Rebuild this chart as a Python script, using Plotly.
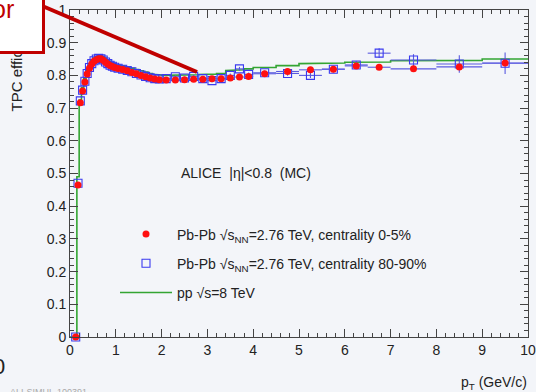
import plotly.graph_objects as go

# ---------------- data ----------------
pt = [0.125, 0.175, 0.225, 0.275, 0.325, 0.375, 0.425, 0.475, 0.525, 0.575,
      0.625, 0.675, 0.725, 0.775, 0.825, 0.875, 0.925, 0.975,
      1.05, 1.15, 1.25, 1.35, 1.45, 1.55, 1.65, 1.75, 1.85, 1.95,
      2.1, 2.3, 2.5, 2.7, 2.9, 3.1, 3.3, 3.5, 3.7, 3.9,
      4.25, 4.75, 5.25, 5.75, 6.25, 6.75, 7.5, 8.5, 9.5]
pt_halfwidth = [0.025] * 18 + [0.05] * 10 + [0.1] * 10 + [0.25] * 6 + [0.5] * 3

eff_central = [0.0, 0.465, 0.716, 0.752, 0.780, 0.804, 0.822, 0.835, 0.843, 0.848,
               0.851, 0.851, 0.846, 0.840, 0.835, 0.830, 0.827, 0.824,
               0.821, 0.818, 0.814, 0.809, 0.805, 0.800, 0.796, 0.792, 0.789, 0.787,
               0.786, 0.786, 0.787, 0.788, 0.788, 0.790, 0.790, 0.792, 0.795, 0.797,
               0.805, 0.812, 0.817, 0.819, 0.829, 0.825, 0.820, 0.826, 0.838]
err_central = [0.001] * 28 + [0.002] * 10 + [0.003, 0.003, 0.004, 0.004, 0.005, 0.005, 0.005, 0.006, 0.008]

eff_periph = [0.0, 0.470, 0.722, 0.755, 0.782, 0.806, 0.824, 0.836, 0.845, 0.850,
              0.852, 0.851, 0.847, 0.841, 0.836, 0.831, 0.828, 0.825,
              0.822, 0.819, 0.815, 0.811, 0.806, 0.801, 0.797, 0.793, 0.790, 0.789,
              0.790, 0.796, 0.792, 0.797, 0.790, 0.784, 0.790, 0.800, 0.820, 0.803,
              0.808, 0.806, 0.800, 0.819, 0.832, 0.868, 0.847, 0.835, 0.837]
err_periph = [0.002] * 28 + [0.004, 0.004, 0.004, 0.005, 0.005, 0.005, 0.005, 0.006, 0.006, 0.006,
                             0.006, 0.007, 0.008, 0.010, 0.012, 0.015, 0.018, 0.027, 0.033]

pp_edges = [0.0, 0.15, 0.2, 0.25, 0.3, 0.35, 0.4, 0.45, 0.5, 0.55, 0.6, 0.65, 0.7, 0.75,
            0.8, 0.85, 0.9, 0.95, 1.0, 1.1, 1.2, 1.3, 1.4, 1.5, 1.6, 1.7, 1.8, 1.9, 2.0,
            2.2, 2.4, 2.6, 2.8, 3.0, 3.2, 3.4, 3.6, 3.8, 4.0,
            4.5, 5.0, 5.5, 6.0, 6.5, 7.0, 8.0, 9.0, 10.0]
eff_pp = [0.0, 0.490, 0.725, 0.762, 0.790, 0.815, 0.832, 0.845, 0.853, 0.858,
          0.861, 0.861, 0.858, 0.853, 0.848, 0.843, 0.839, 0.836,
          0.832, 0.829, 0.825, 0.822, 0.818, 0.814, 0.810, 0.806, 0.803, 0.801,
          0.800, 0.800, 0.801, 0.802, 0.803, 0.804, 0.806, 0.815, 0.817, 0.820,
          0.824, 0.830, 0.836, 0.838, 0.840, 0.841, 0.845, 0.846, 0.850]

x_ticks = [0, 1, 2, 3, 4, 5, 6, 7, 8, 9, 10]
y_ticks = [0, 0.1, 0.2, 0.3, 0.4, 0.5, 0.6, 0.7, 0.8, 0.9, 1.0]
y_tick_labels = ["0", "0.1", "0.2", "0.3", "0.4", "0.5", "0.6", "0.7", "0.8", "0.9", "1"]

# ---------------- style ----------------
W, H = 536, 392
ML, MR, MT, MB = 70, 8, 10, 55
PW, PH = W - ML - MR, H - MT - MB
BG = "#f3f5f9"
FONT = "Liberation Sans, Arial, sans-serif"
TXT = "#222222"
RED = "#ff1010"
BLUE = "#3a3af0"
ERRC = "#5a5ae0"
GREEN = "#33a533"
DARKRED = "#c00000"


def px(xp):
    return (xp - ML) / PW


def py(yp):
    return (H - MB - yp) / PH


# step line for pp histogram
step_x, step_y = [], []
for i, v in enumerate(eff_pp):
    step_x += [pp_edges[i], pp_edges[i + 1]]
    step_y += [v, v]

fig = go.Figure()

fig.add_trace(go.Scatter(
    x=step_x, y=step_y, mode="lines", name="pp \u221As=8 TeV",
    line=dict(color=GREEN, width=1.6), cliponaxis=False,
    legendgroup="c", legendrank=3, hoverinfo="skip"))

fig.add_trace(go.Scatter(
    x=pt, y=eff_periph, mode="markers",
    name="Pb-Pb \u221As<sub>NN</sub>=2.76 TeV, centrality 80-90%",
    marker=dict(symbol="square-open", size=8, color=BLUE, line=dict(width=1.1, color=BLUE)),
    error_x=dict(type="data", array=pt_halfwidth, color=ERRC, thickness=1.1, width=0),
    error_y=dict(type="data", array=err_periph, color=ERRC, thickness=1.1, width=0),
    cliponaxis=False, legendgroup="b", legendrank=2))

fig.add_trace(go.Scatter(
    x=pt, y=eff_central, mode="markers",
    name="Pb-Pb \u221As<sub>NN</sub>=2.76 TeV, centrality 0-5%",
    marker=dict(symbol="circle", size=7, color=RED),
    error_x=dict(type="data", array=pt_halfwidth, color=ERRC, thickness=1.1, width=0),
    error_y=dict(type="data", array=err_central, color=ERRC, thickness=1.1, width=0),
    cliponaxis=False, legendgroup="a", legendrank=1))

axis_common = dict(
    showgrid=False, zeroline=False, showline=True, linecolor="#444444", linewidth=1,
    mirror="allticks", ticks="inside", tickcolor="#444444", tickwidth=1, ticklen=8,
    tickfont=dict(family=FONT, size=14, color=TXT), automargin=False,
)

fig.update_xaxes(range=[0, 10], tickvals=x_ticks,
                 minor=dict(ticks="inside", ticklen=4, dtick=0.2, tickcolor="#444444", showgrid=False),
                 **axis_common)
fig.update_yaxes(range=[0, 1], tickvals=y_ticks, ticktext=y_tick_labels,
                 minor=dict(ticks="inside", ticklen=4, dtick=0.02, tickcolor="#444444", showgrid=False),
                 **axis_common)

fig.update_layout(
    width=W, height=H, margin=dict(l=ML, r=MR, t=MT, b=MB, pad=0, autoexpand=False),
    paper_bgcolor=BG, plot_bgcolor=BG,
    font=dict(family=FONT, size=14, color=TXT),
    showlegend=True,
    legend=dict(x=px(115), y=py(218.5), xanchor="left", yanchor="top",
                bgcolor="rgba(0,0,0,0)", borderwidth=0,
                traceorder="grouped", tracegroupgap=8,
                itemwidth=52, font=dict(family=FONT, size=14, color=TXT)),
)

# pointer line from the note box into the plot
fig.add_shape(type="line", xref="paper", yref="paper",
              x0=px(40), y0=py(5), x1=px(197), y1=py(72),
              line=dict(color=DARKRED, width=4), layer="above")

anns = [
    dict(text="ALICE\u00a0\u00a0|\u03b7|<0.8\u00a0\u00a0(MC)", x=px(179), y=py(173),
         xanchor="left", yanchor="middle", font=dict(size=14)),
    dict(text="p<sub>T</sub> (GeV/c)", x=px(529), y=py(383),
         xanchor="right", yanchor="middle", font=dict(size=14)),
    dict(text="TPC efficiency", x=px(16), y=py(114), textangle=-90,
         xanchor="center", yanchor="bottom", font=dict(size=15)),
    dict(text="0", x=px(7), y=py(366), xanchor="right", yanchor="middle",
         font=dict(size=22, color=TXT)),
    dict(text="ALI-SIMUL-100391", x=px(8), y=py(392), xanchor="left", yanchor="middle",
         font=dict(size=9, color="#aaaaaa")),
    # note box (drawn over the axis title, like the slide overlay)
    dict(text="or", x=px(44.5), y=py(-8), xanchor="right", yanchor="top",
         width=50, height=56, align="left", valign="top",
         bgcolor="#ffffff", bordercolor=DARKRED, borderwidth=3, borderpad=0,
         font=dict(size=25, color=DARKRED)),
]
for a in anns:
    a.update(xref="paper", yref="paper", showarrow=False)
    fig.add_annotation(**a)

fig.write_html("out.html", config={"displayModeBar": False},
               post_script="document.body.style.margin='0px';")
